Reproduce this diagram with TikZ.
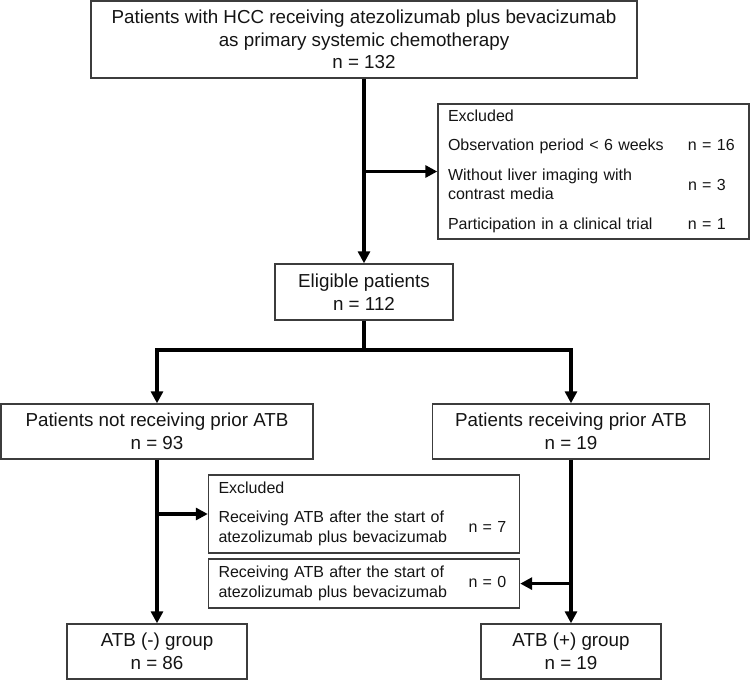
\documentclass[tikz,border=0pt]{standalone}
\usepackage{fontspec}
\setmainfont{Liberation Sans}
\usepackage{array}
\usetikzlibrary{arrows.meta,positioning}

\definecolor{boxgray}{RGB}{60,60,60}
\definecolor{txtblack}{RGB}{20,20,20}

\tikzset{
  box/.style={draw=boxgray, line width=1.4pt, align=center, inner sep=0pt,
    text=txtblack, font=\fontsize{18.8}{22.5}\selectfont},
  exbox/.style={draw=boxgray, line width=1.4pt, inner xsep=10pt, inner ysep=0pt,
    text width=291pt, text=txtblack, font=\fontsize{16}{19.5}\selectfont},
  flow/.style={line width=3.4pt},
  arr/.style={flow, -{Triangle[length=12pt,width=12pt]}}
}

% excluded list: [reason column width] reason & count
\newcommand{\exlist}[2][240pt]{\begin{tabular}{@{}m{#1}@{}l@{}}#2\end{tabular}}
\newcommand{\rgap}{\\\noalign{\vskip 10pt}}

\begin{document}
\begin{tikzpicture}[x=1pt, y=-1pt]

  \useasboundingbox (0,0) rectangle (750,681);

  % main flow
  \node[box, minimum width=546pt, minimum height=77pt] (hcc) at (364,39.5)
    {Patients with HCC receiving atezolizumab plus bevacizumab\\as primary systemic chemotherapy\\n = 132};
  \node[box, minimum width=178pt, minimum height=56pt] (elig) at (364,292)
    {Eligible patients\\n = 112};
  \node[box, minimum width=312pt, minimum height=55pt] (noprior) at (157,431.5)
    {Patients not receiving prior ATB\\n = 93};
  \node[box, minimum width=277pt, minimum height=55pt] (prior) at (571,431.5)
    {Patients receiving prior ATB\\n = 19};
  \node[box, minimum width=180pt, minimum height=55pt] (neg) at (157,651.5)
    {ATB (-) group\\n = 86};
  \node[box, minimum width=180pt, minimum height=55pt] (pos) at (571,651.5)
    {ATB (+) group\\n = 19};

  % exclusions
  \node[exbox, minimum height=135pt] (excl1) at (593.5,171.5)
    {\exlist{Excluded & \rgap
      Observation period < 6 weeks & n = 16\rgap
      Without liver imaging with\newline contrast media & n = 3\rgap
      Participation in a clinical trial & n = 1}};
  \node[exbox, minimum height=78pt] (excl2) at (364,514)
    {\exlist[250pt]{Excluded & \rgap
      Receiving ATB after the start of\newline atezolizumab plus bevacizumab & n = 7}};
  \node[exbox, minimum height=49pt] (excl3) at (364,583.6)
    {\exlist[250pt]{Receiving ATB after the start of\newline atezolizumab plus bevacizumab & n = 0}};

  % connectors
  \coordinate (split) at (364,350);
  \draw[arr] (hcc.south) -- (elig.north);
  \draw[arr] (hcc.south |- excl1.west) -- (excl1.west);
  \draw[flow] (elig.south) -- (split);
  \draw[arr] (split) -| (noprior.north);
  \draw[arr] (split) -| (prior.north);

  \draw[arr] (noprior.south) -- (neg.north);
  \draw[arr] (noprior.south |- excl2.west) -- (excl2.west);
  \draw[arr] (prior.south) -- (pos.north);
  \draw[arr] (prior.south |- excl3.east) -- (excl3.east);

\end{tikzpicture}
\end{document}
